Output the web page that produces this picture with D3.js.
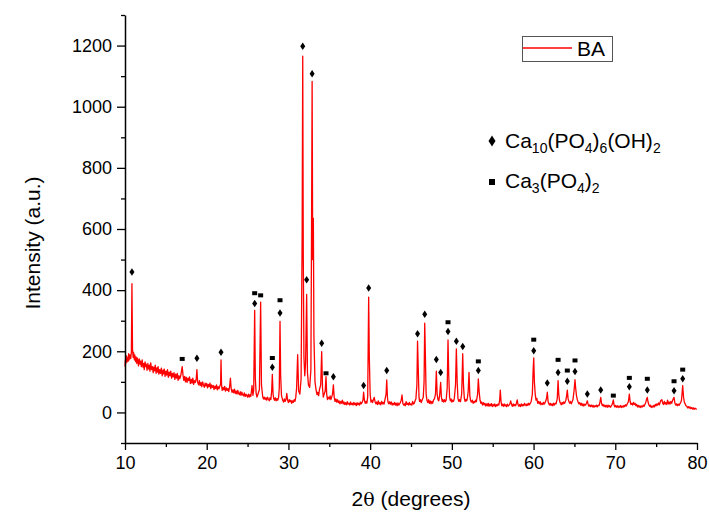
<!DOCTYPE html>
<html><head><meta charset="utf-8">
<script src="https://cdn.jsdelivr.net/npm/d3@7"></script>
<style>body{margin:0;background:#fff} svg{display:block} text{font-family:"Liberation Sans",Arial,sans-serif;fill:#000}</style>
</head><body><svg id="c" width="709" height="516"></svg>
<script>
const xTicks=[10,20,30,40,50,60,70,80];
const xMinor=[15,25,35,45,55,65,75];
const yTicks=[0,200,400,600,800,1000,1200];
const yMinor=[-100,100,300,500,700,900,1100,1300];
const seriesName="BA";
const scan=[[10.0,150],[10.05,172],[10.1,160],[10.2,185],[10.25,165],[10.3,178],[10.4,168],[10.45,192],[10.5,172],[10.6,188],[10.7,176],[10.78,198],[10.85,421],[10.92,205],[11.0,180],[11.05,196],[11.15,172],[11.2,188],[11.3,166],[11.35,182],[11.45,160],[11.5,178],[11.6,170],[11.65,152],[11.75,175],[11.85,158],[11.9,168],[12.0,150],[12.1,172],[12.2,148],[12.3,160],[12.35,140],[12.45,165],[12.55,150],[12.6,158],[12.7,138],[12.8,160],[12.9,142],[13.0,155],[13.05,135],[13.15,162],[13.25,140],[13.35,150],[13.45,130],[13.5,148],[13.6,136],[13.7,155],[13.8,128],[13.9,146],[14.0,132],[14.05,150],[14.15,125],[14.25,140],[14.35,128],[14.45,145],[14.55,120],[14.65,138],[14.7,126],[14.8,142],[14.9,118],[15.0,135],[15.1,122],[15.2,140],[15.3,115],[15.4,132],[15.5,120],[15.6,135],[15.7,112],[15.8,128],[15.9,116],[16.0,130],[16.1,108],[16.2,125],[16.3,112],[16.4,128],[16.5,105],[16.6,120],[16.7,110],[16.8,118],[16.9,132],[17.0,150],[17.1,122],[17.2,105],[17.3,118],[17.4,100],[17.5,115],[17.6,98],[17.7,112],[17.8,104],[17.9,116],[18.0,94],[18.1,108],[18.2,96],[18.3,112],[18.4,92],[18.5,104],[18.6,98],[18.72,110],[18.8,140],[18.88,100],[19.0,90],[19.1,104],[19.2,88],[19.3,98],[19.4,84],[19.5,100],[19.6,90],[19.7,82],[19.8,96],[19.9,86],[20.0,95],[20.1,80],[20.2,92],[20.3,84],[20.4,96],[20.5,78],[20.6,90],[20.7,82],[20.8,88],[20.9,75],[21.0,86],[21.1,78],[21.2,90],[21.3,74],[21.4,84],[21.5,77],[21.6,86],[21.7,92],[21.75,172],[21.82,88],[21.9,72],[22.0,82],[22.1,74],[22.2,85],[22.3,70],[22.4,80],[22.5,72],[22.6,78],[22.7,68],[22.8,84],[22.9,112],[23.0,76],[23.1,66],[23.2,74],[23.3,64],[23.4,76],[23.5,62],[23.6,70],[23.7,60],[23.8,72],[23.9,62],[24.0,58],[24.1,68],[24.2,56],[24.3,66],[24.4,58],[24.5,54],[24.6,64],[24.7,52],[24.8,60],[24.9,55],[25.0,50],[25.1,60],[25.2,50],[25.3,58],[25.4,52],[25.55,88],[25.65,56],[25.75,72],[25.87,334],[25.95,110],[26.05,62],[26.15,50],[26.25,58],[26.45,75],[26.6,361],[26.7,90],[26.85,52],[26.95,44],[27.05,50],[27.15,42],[27.25,48],[27.35,40],[27.45,50],[27.55,43],[27.65,38],[27.75,48],[27.85,42],[27.95,70],[28.03,124],[28.12,60],[28.2,46],[28.3,40],[28.4,48],[28.5,38],[28.6,45],[28.7,40],[28.8,50],[28.88,80],[28.97,298],[29.05,120],[29.15,55],[29.3,40],[29.4,34],[29.5,44],[29.6,36],[29.7,42],[29.8,62],[29.9,40],[30.0,32],[30.1,42],[30.2,35],[30.3,40],[30.4,30],[30.5,38],[30.6,33],[30.7,42],[30.8,36],[30.9,50],[31.0,80],[31.13,189],[31.25,70],[31.4,60],[31.55,110],[31.68,585],[31.75,1165],[31.82,500],[31.9,180],[32.0,120],[32.1,160],[32.23,386],[32.33,130],[32.45,90],[32.6,82],[32.75,140],[32.83,600],[32.9,1083],[32.97,500],[33.05,635],[33.12,250],[33.25,100],[33.4,71],[33.5,58],[33.6,66],[33.7,55],[33.8,75],[33.95,90],[34.07,199],[34.17,80],[34.27,50],[34.35,58],[34.5,70],[34.6,117],[34.68,60],[34.78,42],[34.85,50],[35.0,44],[35.1,54],[35.2,42],[35.4,60],[35.5,90],[35.6,50],[35.7,36],[35.8,44],[35.9,34],[36.0,42],[36.1,32],[36.2,38],[36.3,28],[36.4,36],[36.5,30],[36.6,40],[36.7,28],[36.8,34],[36.9,26],[37.0,32],[37.1,25],[37.2,35],[37.3,27],[37.4,30],[37.5,24],[37.6,34],[37.7,26],[37.8,30],[37.9,24],[38.0,33],[38.1,26],[38.2,30],[38.3,22],[38.4,32],[38.5,25],[38.6,30],[38.7,24],[38.8,34],[38.9,28],[39.0,32],[39.12,40],[39.2,66],[39.3,40],[39.4,30],[39.5,36],[39.6,30],[39.7,50],[39.82,377],[39.9,180],[40.0,60],[40.1,34],[40.2,40],[40.3,32],[40.4,42],[40.5,49],[40.6,35],[40.7,28],[40.8,34],[40.9,26],[41.0,38],[41.1,27],[41.2,32],[41.3,25],[41.4,36],[41.5,28],[41.6,33],[41.7,27],[41.8,40],[41.95,60],[42.03,106],[42.12,48],[42.2,32],[42.3,28],[42.4,35],[42.5,27],[42.6,34],[42.7,24],[42.8,30],[42.9,25],[43.0,33],[43.1,24],[43.2,30],[43.3,22],[43.4,31],[43.5,24],[43.6,28],[43.7,32],[43.8,40],[43.9,57],[44.0,30],[44.1,24],[44.2,28],[44.3,22],[44.4,35],[44.5,26],[44.6,30],[44.7,24],[44.8,33],[44.9,25],[45.0,28],[45.1,24],[45.2,36],[45.3,27],[45.4,30],[45.5,38],[45.6,45],[45.72,90],[45.8,233],[45.88,150],[45.98,50],[46.05,36],[46.15,42],[46.25,32],[46.35,40],[46.5,50],[46.6,100],[46.68,292],[46.75,200],[46.85,60],[46.95,40],[47.05,32],[47.15,42],[47.25,30],[47.35,38],[47.45,28],[47.55,36],[47.65,30],[47.75,40],[47.88,45],[48.0,60],[48.1,135],[48.2,60],[48.3,42],[48.4,38],[48.5,55],[48.63,98],[48.72,50],[48.82,36],[48.9,42],[49.0,34],[49.1,42],[49.2,35],[49.3,40],[49.43,80],[49.53,237],[49.62,120],[49.72,50],[49.82,38],[49.92,44],[50.0,34],[50.1,40],[50.2,36],[50.3,45],[50.45,90],[50.55,208],[50.65,100],[50.75,45],[50.85,36],[50.95,42],[51.05,35],[51.2,60],[51.33,192],[51.42,90],[51.52,48],[51.62,36],[51.72,42],[51.82,38],[51.92,50],[52.0,70],[52.1,131],[52.2,55],[52.3,38],[52.4,34],[52.5,40],[52.6,30],[52.7,36],[52.8,32],[52.9,40],[53.0,35],[53.15,60],[53.24,110],[53.35,65],[53.45,40],[53.55,30],[53.65,34],[53.75,24],[53.85,32],[53.95,25],[54.05,30],[54.15,21],[54.25,28],[54.35,22],[54.45,30],[54.55,20],[54.65,27],[54.75,22],[54.85,29],[54.95,19],[55.05,26],[55.15,21],[55.25,28],[55.35,19],[55.45,25],[55.55,22],[55.65,27],[55.75,24],[55.85,40],[55.93,73],[56.02,35],[56.1,22],[56.2,27],[56.3,20],[56.4,28],[56.5,21],[56.6,25],[56.7,19],[56.8,27],[56.9,21],[57.0,24],[57.1,28],[57.2,38],[57.3,26],[57.4,20],[57.5,28],[57.6,21],[57.7,26],[57.8,22],[57.9,30],[58.0,41],[58.1,25],[58.2,20],[58.3,26],[58.4,19],[58.5,28],[58.6,21],[58.7,26],[58.8,22],[58.9,30],[59.0,24],[59.1,22],[59.2,28],[59.3,23],[59.4,30],[59.5,25],[59.6,30],[59.7,35],[59.85,60],[59.95,140],[60.02,178],[60.1,100],[60.2,60],[60.3,40],[60.4,46],[60.5,30],[60.6,36],[60.7,28],[60.8,35],[60.9,25],[61.0,30],[61.1,26],[61.2,33],[61.3,27],[61.4,32],[61.5,38],[61.6,48],[61.68,66],[61.78,35],[61.88,28],[61.95,24],[62.05,30],[62.15,23],[62.25,28],[62.35,22],[62.45,30],[62.55,24],[62.65,30],[62.75,28],[62.9,45],[63.0,104],[63.08,60],[63.18,38],[63.28,30],[63.38,25],[63.48,33],[63.58,27],[63.68,34],[63.8,30],[63.95,40],[64.05,55],[64.13,73],[64.22,45],[64.32,36],[64.42,30],[64.52,36],[64.62,28],[64.72,35],[64.82,42],[64.95,70],[65.07,107],[65.15,80],[65.25,55],[65.35,42],[65.45,34],[65.55,28],[65.65,32],[65.75,24],[65.85,30],[65.95,22],[66.05,28],[66.15,21],[66.25,27],[66.35,24],[66.48,30],[66.58,38],[66.68,26],[66.78,20],[66.88,25],[66.98,19],[67.1,24],[67.2,18],[67.3,23],[67.4,17],[67.5,22],[67.6,19],[67.7,24],[67.8,18],[67.9,23],[68.0,22],[68.1,30],[68.22,49],[68.32,30],[68.42,22],[68.52,26],[68.62,19],[68.72,24],[68.82,18],[68.92,23],[69.02,17],[69.12,24],[69.22,18],[69.32,22],[69.42,17],[69.52,22],[69.65,28],[69.76,41],[69.85,24],[69.95,18],[70.05,23],[70.15,17],[70.25,22],[70.35,16],[70.45,21],[70.55,17],[70.65,23],[70.75,16],[70.85,21],[70.95,17],[71.05,23],[71.15,19],[71.25,25],[71.35,21],[71.45,27],[71.6,35],[71.72,60],[71.82,35],[71.92,26],[72.02,30],[72.12,24],[72.22,33],[72.32,26],[72.42,30],[72.52,22],[72.62,26],[72.72,18],[72.82,23],[72.92,17],[73.02,22],[73.12,16],[73.22,21],[73.32,18],[73.42,24],[73.52,20],[73.62,26],[73.72,32],[73.85,45],[73.92,49],[74.0,35],[74.1,26],[74.2,20],[74.3,24],[74.4,16],[74.5,21],[74.6,17],[74.7,23],[74.8,18],[74.9,26],[75.0,22],[75.1,28],[75.2,24],[75.3,31],[75.4,25],[75.55,38],[75.7,42],[75.8,30],[75.9,26],[76.0,36],[76.1,27],[76.2,32],[76.3,26],[76.4,40],[76.5,28],[76.6,34],[76.7,27],[76.8,36],[76.9,30],[77.0,38],[77.1,45],[77.19,49],[77.3,30],[77.4,24],[77.5,28],[77.6,22],[77.7,27],[77.8,23],[77.9,28],[78.0,32],[78.1,40],[78.25,88],[78.35,50],[78.45,34],[78.55,28],[78.65,22],[78.75,20],[78.85,15],[78.95,19],[79.05,14],[79.15,18],[79.25,12],[79.35,16],[79.45,11],[79.55,15],[79.65,10],[79.75,14],[79.85,12],[80.0,11]];
const hapMarks=[[10.85,459],[18.8,177],[21.75,197],[25.87,356],[28.03,148],[28.97,325],[31.75,1198],[32.23,434],[32.9,1108],[34.07,226],[35.5,117],[39.2,88],[39.82,407],[42.03,137],[45.8,257],[46.68,321],[48.1,173],[48.63,131],[49.53,265],[50.55,233],[51.33,216],[53.24,137],[60.02,202],[61.68,96],[63.0,131],[64.13,102],[65.07,134],[66.58,60],[68.22,73],[71.72,84],[73.92,73],[77.19,71],[78.25,110]];
const tcpMarks=[[17.0,175],[25.87,390],[26.6,383],[28.03,178],[28.97,367],[34.6,128],[49.53,295],[53.24,167],[60.02,238],[63.0,172],[64.13,137],[65.07,170],[69.76,55],[71.72,113],[73.92,110],[77.19,102],[78.25,140]];
const hapLabel=[["Ca",0],["10",1],["(PO",0],["4",1],[")",0],["6",1],["(OH)",0],["2",1]];
const tcpLabel=[["Ca",0],["3",1],["(PO",0],["4",1],[")",0],["2",1]];

const svg=d3.select("#c");
svg.append("rect").attr("width",709).attr("height",516).attr("fill","#fff");
const x=d3.scaleLinear().domain([10,80]).range([125,697]);
const y=d3.scaleLinear().domain([-100,1300]).range([443,15]);

function diamondPath(cx,cy,w,h){return `M${cx},${cy-h/2}L${cx+w/2},${cy}L${cx},${cy+h/2}L${cx-w/2},${cy}Z`;}
function squarePath(cx,cy,w,h){return `M${cx-w/2},${cy-h/2}h${w}v${h}h${-w}Z`;}

// data line
const line=d3.line().x(d=>x(d[0])).y(d=>y(d[1]));
svg.append("path").datum(scan).attr("d",line).attr("fill","none").attr("stroke","#ff0000").attr("stroke-width",1.3).attr("stroke-linejoin","round");

// markers
svg.append("g").selectAll("path").data(hapMarks).join("path")
  .attr("d",d=>diamondPath(x(d[0]),y(d[1]),5,7.5)).attr("fill","#000");
svg.append("g").selectAll("path").data(tcpMarks).join("path")
  .attr("d",d=>squarePath(x(d[0]),y(d[1]),5,4)).attr("fill","#000");

// axes
const fmt=d3.format("d");
svg.append("g").attr("transform","translate(0,443)")
  .call(d3.axisBottom(x).tickValues(xTicks).tickFormat(fmt).tickSize(7).tickSizeOuter(0).tickPadding(6));
svg.append("g").attr("transform","translate(0,443)")
  .call(d3.axisBottom(x).tickValues(xMinor).tickSize(4).tickFormat("").tickSizeOuter(0)).select(".domain").remove();
svg.append("g").attr("transform","translate(125,0)")
  .call(d3.axisLeft(y).tickValues(yTicks).tickFormat(fmt).tickSize(8).tickSizeOuter(0).tickPadding(5));
svg.append("g").attr("transform","translate(125,0)")
  .call(d3.axisLeft(y).tickValues(yMinor).tickSize(4).tickFormat("").tickSizeOuter(0)).select(".domain").remove();
svg.selectAll(".domain").attr("stroke","#000").attr("stroke-width",1.5);
svg.selectAll(".tick line").attr("stroke","#000").attr("stroke-width",1.3);
svg.selectAll(".tick text").attr("font-size",18).attr("font-family","Liberation Sans, Arial, sans-serif").attr("fill","#000");

// axis titles
const xt=svg.append("text").attr("x",411).attr("y",506).attr("text-anchor","middle").attr("font-size",21);
xt.append("tspan").text("2");
xt.append("tspan").text("\u03B8").attr("font-family","DejaVu Serif, serif").attr("font-size",19);
xt.append("tspan").text(" (degrees)");
svg.append("text").attr("transform","translate(40,243) rotate(-90)").attr("text-anchor","middle").attr("font-size",21).text("Intensity (a.u.)");

// legend box
svg.append("rect").attr("x",522.5).attr("y",36.5).attr("width",90).attr("height",25).attr("fill","#fff").attr("stroke","#555").attr("stroke-width",1);
svg.append("line").attr("x1",523).attr("x2",572).attr("y1",48).attr("y2",48).attr("stroke","#ff0000").attr("stroke-width",1.3);
svg.append("text").attr("x",577).attr("y",56).attr("font-size",21).text(seriesName);

// phase legend
function formula(parts,x0,yb){
  const t=svg.append("text").attr("x",x0).attr("y",yb).attr("font-size",21);
  let sub=false;
  parts.forEach(([s,isSub])=>{
    const ts=t.append("tspan").text(s);
    if(isSub&&!sub){ts.attr("dy",5).attr("font-size",14);sub=true;}
    else if(isSub){ts.attr("font-size",14);}
    else if(!isSub&&sub){ts.attr("dy",-5);sub=false;}
  });
}
svg.append("path").attr("d",diamondPath(492,141,7,11)).attr("fill","#000");
formula(hapLabel,505,148);
svg.append("path").attr("d",squarePath(492,182,6,6)).attr("fill","#000");
formula(tcpLabel,505,188);
</script></body></html>
